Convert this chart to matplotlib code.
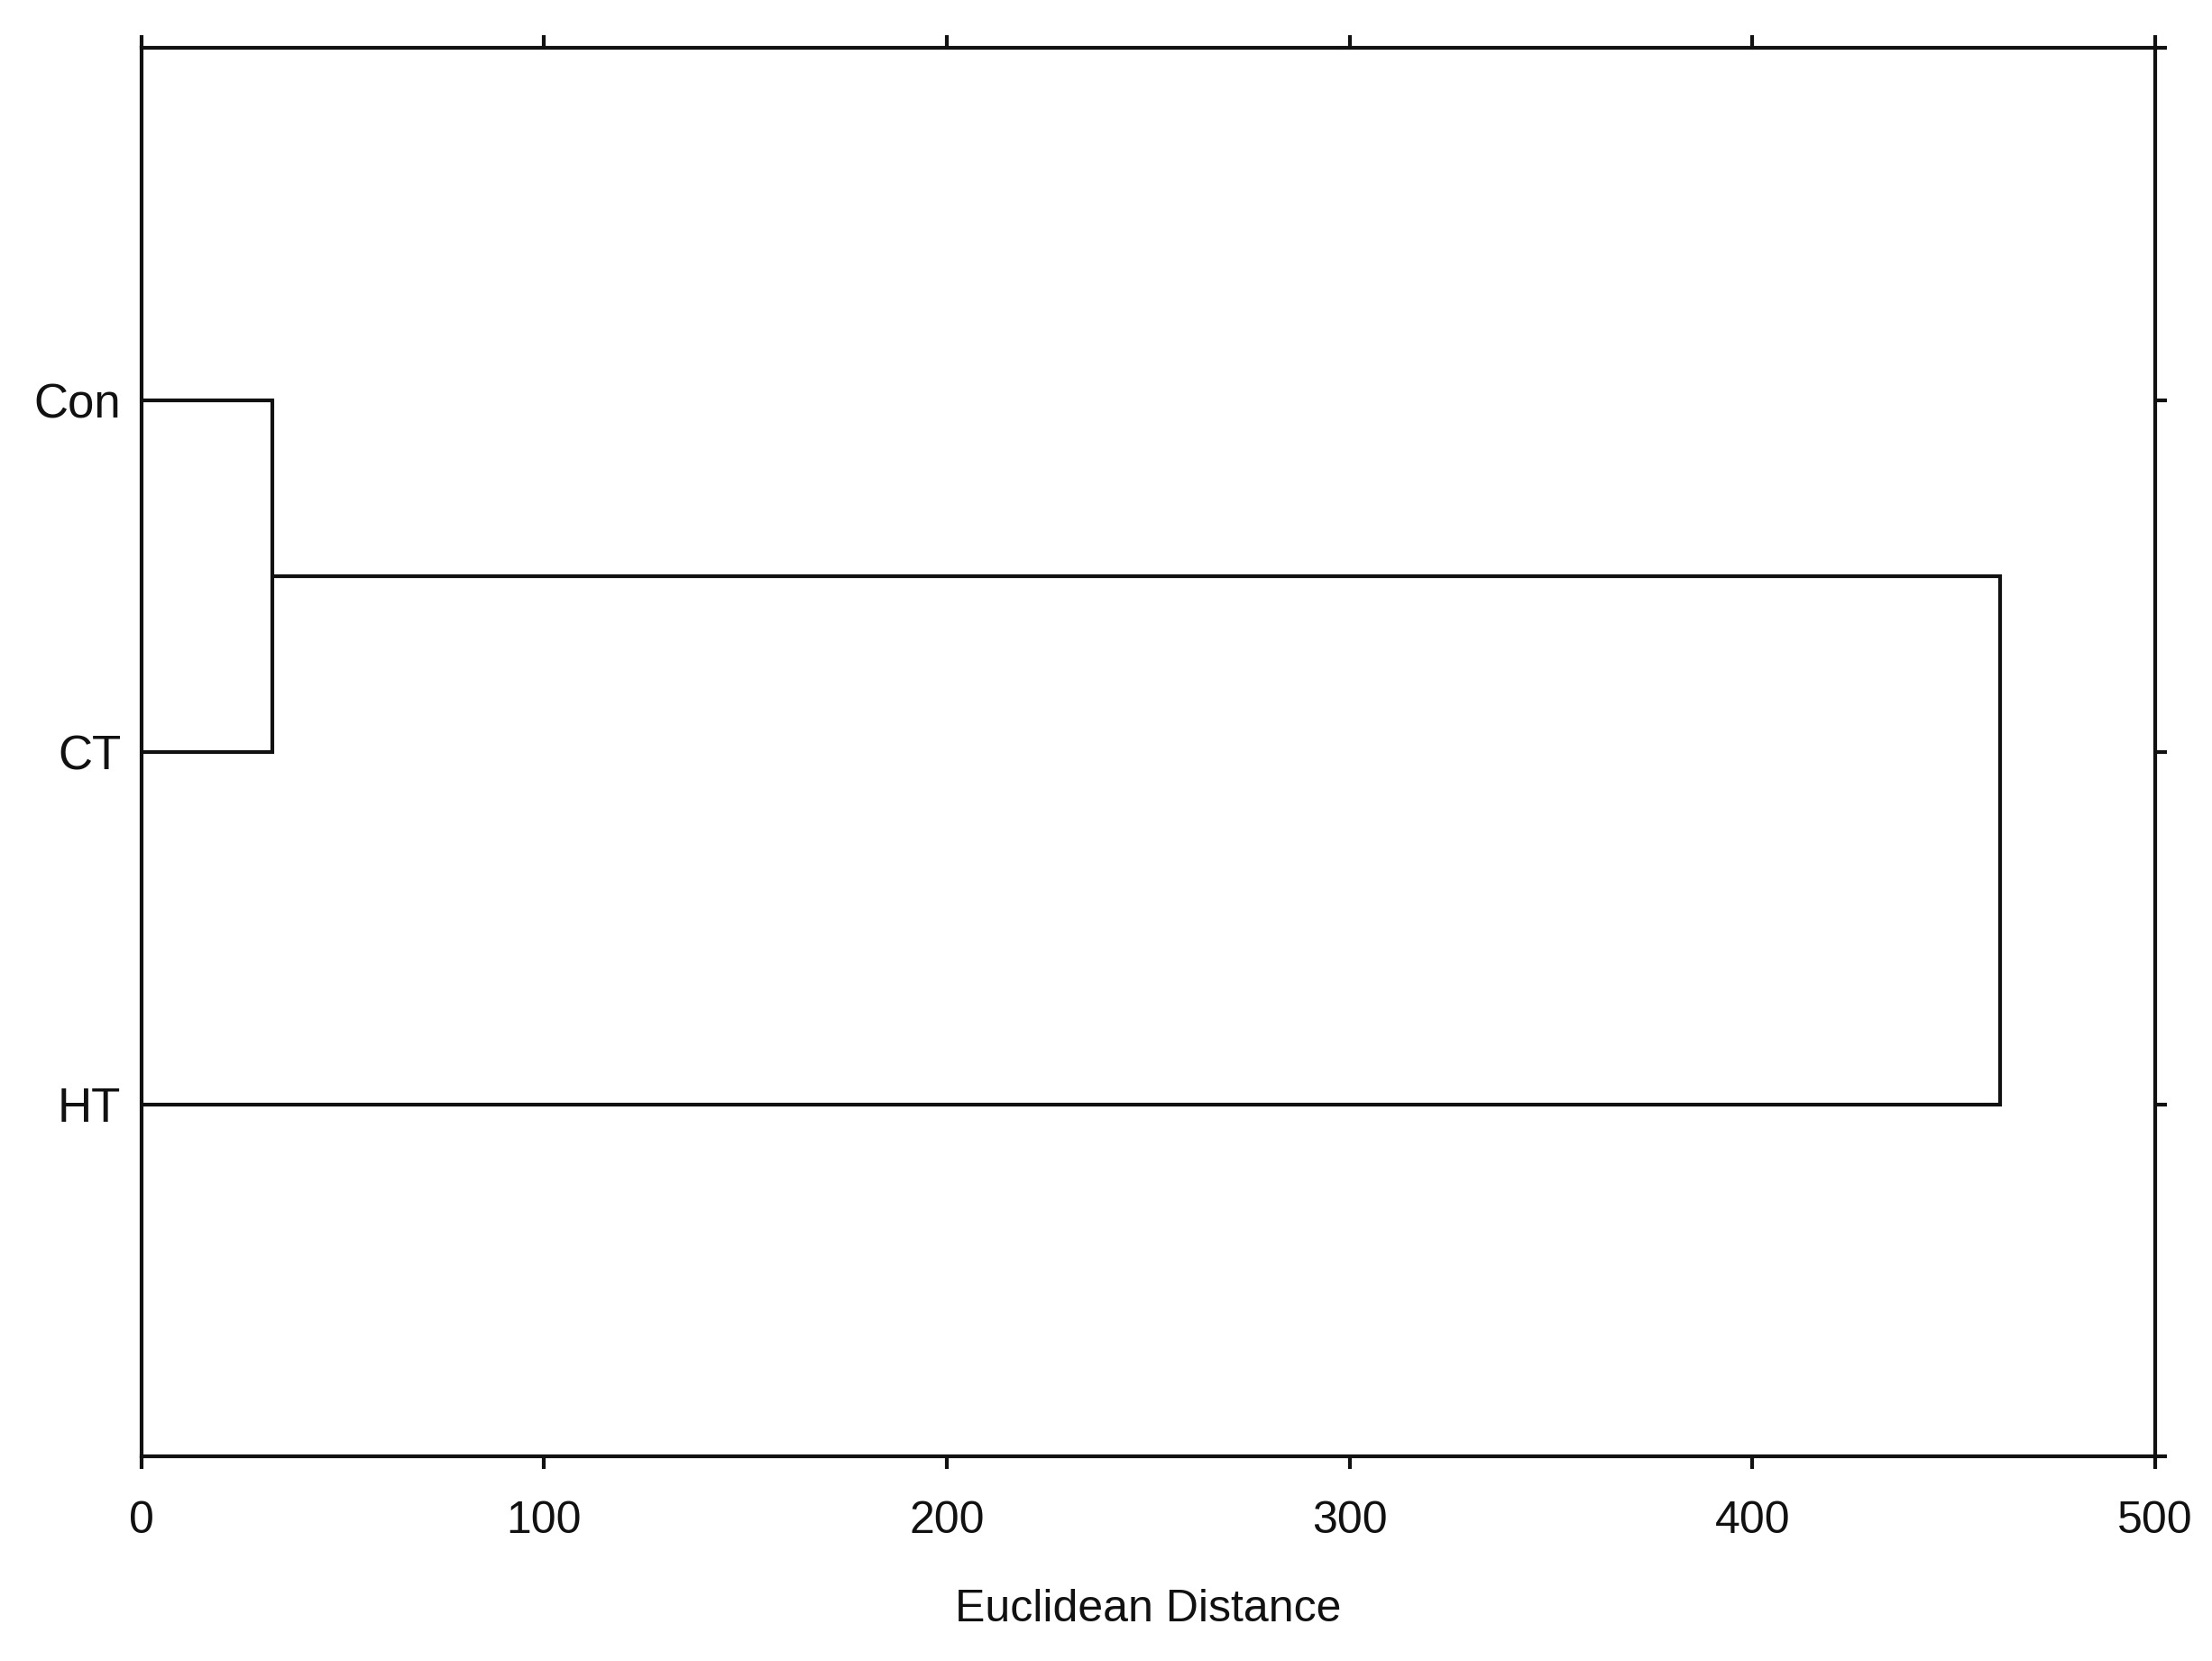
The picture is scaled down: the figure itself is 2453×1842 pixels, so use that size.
import matplotlib
matplotlib.use("Agg")
import matplotlib.pyplot as plt

# Data
labels = ["Con", "CT", "HT"]
leaf_pos = [3, 2, 1]
# merges: (left child y, right child y, distance, left child height, right child height)
merge_left_y = [3, 2.5]
merge_right_y = [2, 1]
merge_dist = [32.6, 461.5]
merge_left_h = [0, 32.6]
merge_right_h = [0, 0]
xticks = [0, 100, 200, 300, 400, 500]

plt.rcParams['font.family'] = ['Liberation Sans', 'DejaVu Sans']

fig = plt.figure(figsize=(24.53, 18.42), dpi=100)
ax = fig.add_axes([0.0638, 0.1232, 0.9743 - 0.0638, 0.9712 - 0.1232])

lw = 3.0
for ly, ry, d, lh, rh in zip(merge_left_y, merge_right_y, merge_dist, merge_left_h, merge_right_h):
    ax.plot([lh, d, d, rh], [ly, ly, ry, ry], color='#111111', lw=lw, solid_joinstyle='miter',
            solid_capstyle='butt', clip_on=False)

ax.set_xlim(0, 500)
ax.set_ylim(0, 4)
ax.set_xticks(xticks)
ax.set_xticklabels([str(t) for t in xticks])
ax.set_yticks(leaf_pos)
ax.set_yticklabels(labels)

for s in ax.spines.values():
    s.set_linewidth(lw)
    s.set_color('#111111')

ax.tick_params(axis='x', which='both', direction='out', length=10, width=lw,
               top=True, bottom=True, labeltop=False, labelsize=36, pad=25,
               color='#111111', labelcolor='#111111')
ax.tick_params(axis='y', which='both', direction='out', length=9, width=lw,
               left=False, right=True, labelright=False, labelsize=38, pad=7,
               color='#111111', labelcolor='#111111')
# right spine ticks at 0..4
ax.yaxis.set_minor_locator(matplotlib.ticker.FixedLocator([0, 4]))
ax.tick_params(axis='y', which='minor', length=9, width=lw, left=False, right=True)

ax.set_xlabel("Euclidean Distance", fontsize=36, labelpad=38, color='#111111')

fig.savefig("out.png", dpi=100, facecolor='white')
